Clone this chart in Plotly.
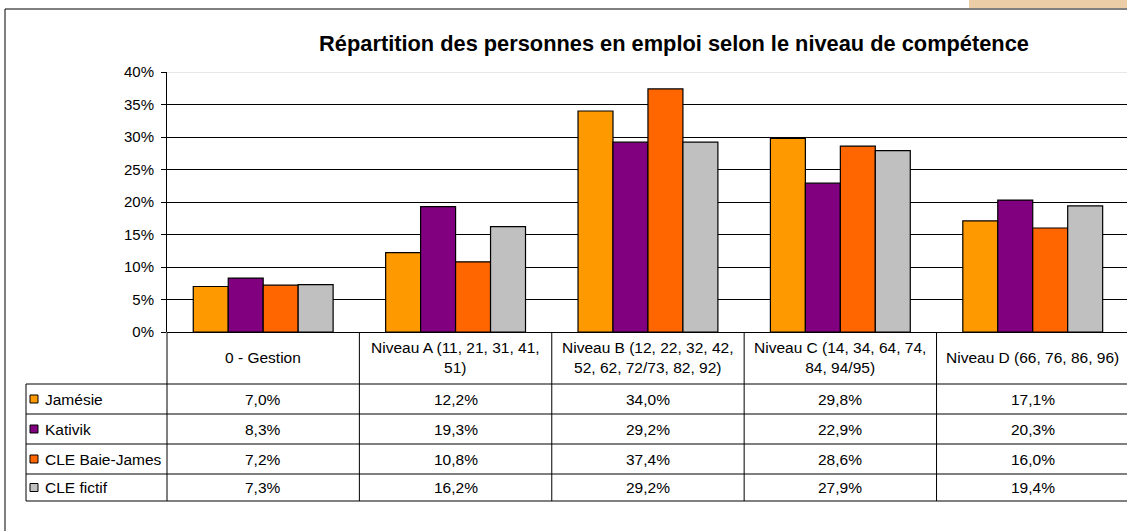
import plotly.graph_objects as go

categories = ["0 - Gestion", "Niveau A (11, 21, 31, 41,<br>51)",
              "Niveau B (12, 22, 32, 42,<br>52, 62, 72/73, 82, 92)",
              "Niveau C (14, 34, 64, 74,<br>84, 94/95)",
              "Niveau D (66, 76, 86, 96)"]
series_names = ["Jamésie", "Kativik", "CLE Baie-James", "CLE fictif"]
jamesie = [7.0, 12.2, 34.0, 29.8, 17.1]
kativik = [8.3, 19.3, 29.2, 22.9, 20.3]
cle_bj = [7.2, 10.8, 37.4, 28.6, 16.0]
cle_fictif = [7.3, 16.2, 29.2, 27.9, 19.4]
colors = ["#FF9900", "#800080", "#FF6600", "#C0C0C0"]

series = [jamesie, kativik, cle_bj, cle_fictif]
xs = list(range(len(categories)))
FONT = "Arial, Liberation Sans, sans-serif"
TXT = 15.5

fig = go.Figure()
for name, vals, col in zip(series_names, series, colors):
    fig.add_trace(go.Bar(x=xs, y=vals, name=name, marker_color=col,
                         marker_line=dict(color="#000000", width=1.2)))

# plot area is 72px..332px from the top, 167px from the left
def py(pix):
    return (332 - pix) / 260.0

def px(pix):
    return (pix - 167) / 960.0

row_lines = [384, 414, 444, 474, 501]
shapes = []
line = dict(color="#000000", width=1)

# horizontal table lines
for r in row_lines:
    shapes.append(dict(type="line", xref="paper", yref="paper",
                       x0=px(26), x1=1, y0=py(r), y1=py(r), line=line))
# vertical lines between categories
for i in range(len(categories) - 1):
    shapes.append(dict(type="line", xref="x", yref="paper",
                       x0=i + 0.5, x1=i + 0.5, y0=0, y1=py(501), line=line))
shapes.append(dict(type="line", xref="paper", yref="paper",
                   x0=0, x1=0, y0=0, y1=py(501), line=line))
shapes.append(dict(type="line", xref="paper", yref="paper",
                   x0=px(26), x1=px(26), y0=py(384), y1=py(501), line=line))
# top gridline lighter
shapes.append(dict(type="line", xref="paper", yref="y", x0=0, x1=1,
                   y0=40, y1=40, line=dict(color="#D0D0D0", width=1)))
# outer chart border
shapes.append(dict(type="rect", xref="paper", yref="paper",
                   x0=px(5), x1=px(1140), y0=py(9), y1=py(545),
                   line=dict(color="#000000", width=1), layer="below"))
# tan tab top right
shapes.append(dict(type="rect", xref="paper", yref="paper",
                   x0=px(969), x1=px(1130), y0=py(-2), y1=py(8),
                   line=dict(width=0), fillcolor="#EBCDA8"))

annotations = []
for i, cat in enumerate(categories):
    annotations.append(dict(x=i, y=py(357.5), xref="x", yref="paper",
                            text=cat, showarrow=False,
                            xanchor="center", yanchor="middle",
                            font=dict(family=FONT, size=TXT, color="#000000")))

for k, (name, vals, col) in enumerate(zip(series_names, series, colors)):
    top, bot = row_lines[k], row_lines[k + 1]
    mid = (top + bot) / 2
    shapes.append(dict(type="rect", xref="paper", yref="paper",
                       x0=px(30), x1=px(38), y0=py(mid - 4), y1=py(mid + 4),
                       fillcolor=col, line=dict(color="#000000", width=1)))
    annotations.append(dict(x=px(43), y=py(mid), xref="paper", yref="paper",
                            text=name, showarrow=False,
                            xanchor="left", yanchor="middle",
                            font=dict(family=FONT, size=TXT, color="#000000")))
    for i, v in enumerate(vals):
        annotations.append(dict(x=i, y=py(mid), xref="x", yref="paper",
                                text=f"{v:.1f}%".replace(".", ","),
                                showarrow=False,
                                xanchor="center", yanchor="middle",
                                font=dict(family=FONT, size=TXT, color="#000000")))

fig.update_layout(
    width=1127, height=531,
    margin=dict(l=167, r=0, t=72, b=199),
    paper_bgcolor="white", plot_bgcolor="white",
    barmode="group", bargap=0.273, bargroupgap=0,
    showlegend=False,
    title=dict(text="<b>Répartition des personnes en emploi selon le niveau de compétence</b>",
               xref="container", x=674 / 1127, xanchor="center",
               y=1 - 43 / 531, yanchor="middle",
               font=dict(family=FONT, size=21.8, color="#000000")),
    font=dict(family=FONT, size=TXT, color="#000000"),
    shapes=shapes, annotations=annotations,
)
fig.update_xaxes(range=[-0.5, 4.49], showticklabels=False, showgrid=False,
                 zeroline=False, showline=False, fixedrange=True)
fig.update_yaxes(range=[0, 40], dtick=5, ticksuffix="%", showgrid=True,
                 gridcolor="#000000", gridwidth=1, zeroline=True,
                 zerolinecolor="#000000", zerolinewidth=1,
                 showline=True, linecolor="#000000", linewidth=1,
                 ticks="outside", ticklen=5, tickcolor="#000000",
                 ticklabelstandoff=4,
                 tickfont=dict(family=FONT, size=15, color="#000000"))

# page margin off so the figure sits at the window corner
fig.write_html("out.html", config={"displayModeBar": False},
               post_script="document.body.style.margin='0';")
